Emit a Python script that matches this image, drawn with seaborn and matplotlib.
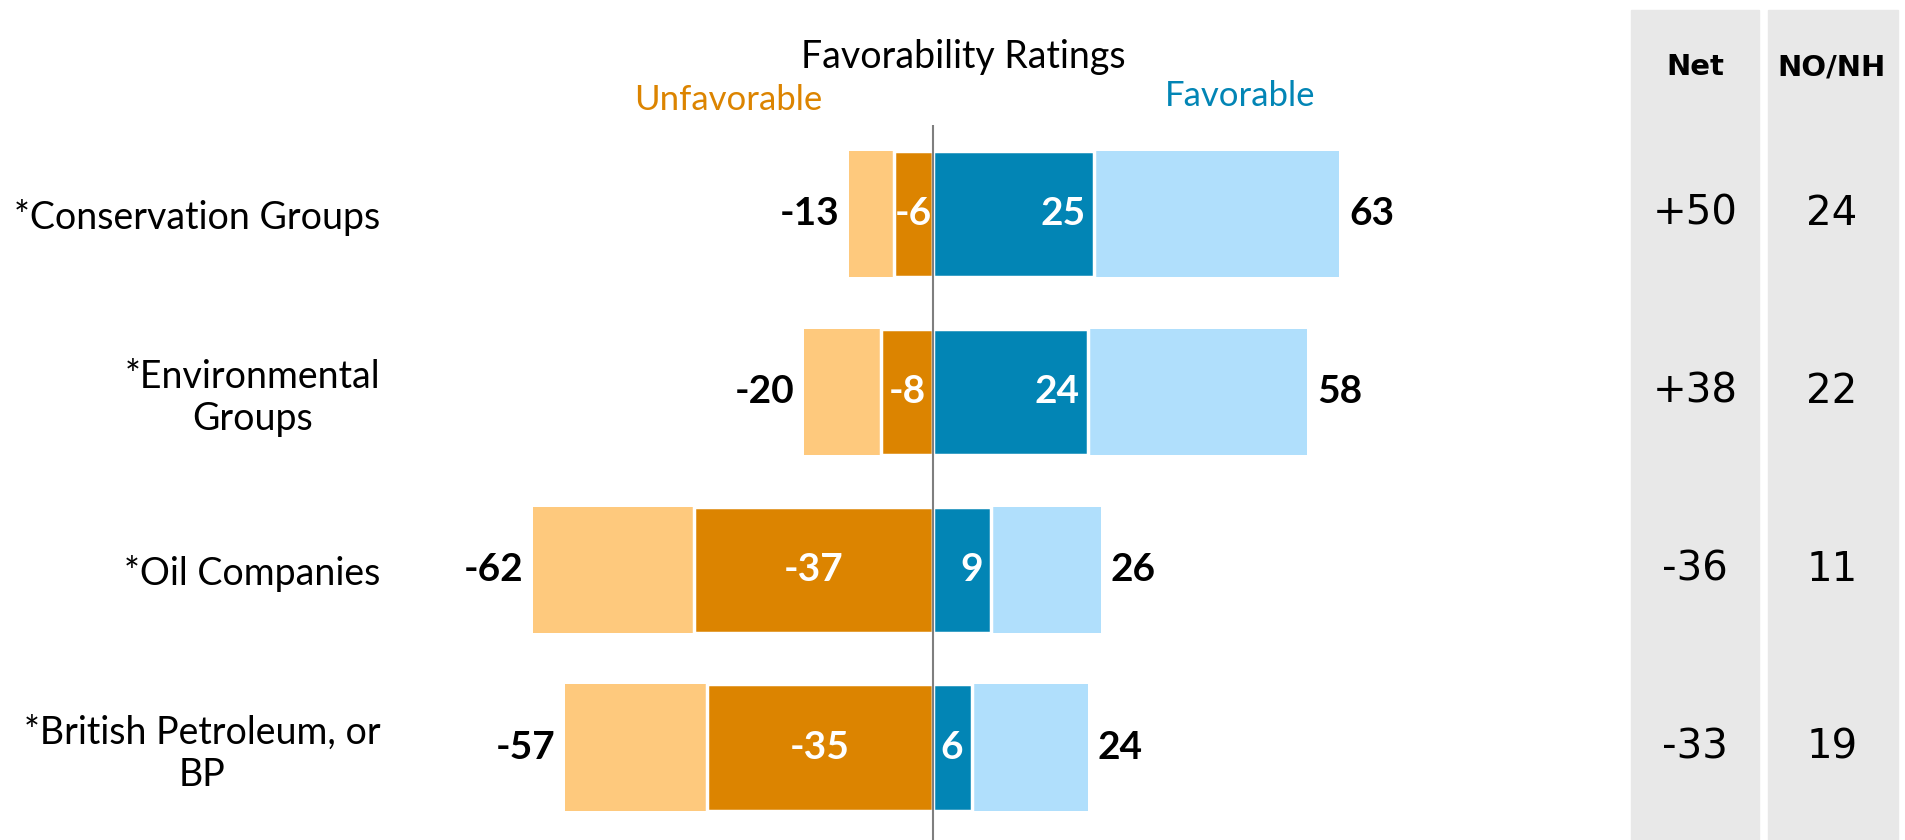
import numpy as np
import pandas as pd
import matplotlib
matplotlib.use('Agg')
import matplotlib.pyplot as plt
import matplotlib.transforms as mtransforms
from matplotlib.patches import Rectangle
import seaborn as sns

# Data
categories = ['*Conservation Groups', '*Environmental\nGroups', '*Oil Companies', '*British Petroleum, or\nBP']
unfav_total = [-13, -20, -62, -57]
unfav_strong = [-6, -8, -37, -35]
fav_total = [63, 58, 26, 24]
fav_strong = [25, 24, 9, 6]
net = ['+50', '+38', '-36', '-33']
no_nh = ['24', '22', '11', '19']

# Colors
light_orange = '#FEC97D'
dark_orange = '#DC8400'
dark_blue = '#0285B5'
light_blue = '#B0DFFC'
box_gray = '#E8E8E8'

sns.set_theme(style='white')
plt.rcParams['font.family'] = ['Lato', 'DejaVu Sans']
plt.rcParams['text.color'] = 'black'

W, H = 1905, 840
fig = plt.figure(figsize=(W / 100, H / 100), dpi=100)

# Gray boxes for the side columns
for x0, x1 in [(1631, 1759), (1768, 1898)]:
    fig.patches.append(Rectangle((x0 / W, 0), (x1 - x0) / W, (H - 10) / H,
                                 transform=fig.transFigure, color=box_gray, zorder=0))

ax = fig.add_axes([400 / W, 0, 1220 / W, 715 / H])
ax.patch.set_alpha(0)

df = pd.DataFrame({'cat': categories, 'unfav_total': unfav_total, 'unfav_strong': unfav_strong,
                   'fav_total': fav_total, 'fav_strong': fav_strong})

bw = 0.71
sns.barplot(data=df, x='unfav_total', y='cat', orient='h', color=light_orange, width=bw,
            edgecolor='white', linewidth=0, saturation=1, ax=ax)
sns.barplot(data=df, x='unfav_strong', y='cat', orient='h', color=dark_orange, width=bw,
            edgecolor='white', linewidth=2.5, saturation=1, ax=ax)
sns.barplot(data=df, x='fav_total', y='cat', orient='h', color=light_blue, width=bw,
            edgecolor='white', linewidth=0, saturation=1, ax=ax)
sns.barplot(data=df, x='fav_strong', y='cat', orient='h', color=dark_blue, width=bw,
            edgecolor='white', linewidth=2.5, saturation=1, ax=ax)

ax.set_xlim(-(933 - 400) / 6.45, (1620 - 933) / 6.45)
ax.set_ylim(3.52, -0.5)
ax.axvline(0, color='#7F7F7F', lw=1.5, zorder=10)

lbl_size = 28
c_ut, c_us, c_ft, c_fs = ax.containers[:4]
ax.bar_label(c_ut, labels=[str(v) for v in unfav_total], padding=7,
             fontsize=lbl_size, fontweight='bold', color='black')
ax.bar_label(c_ft, labels=[str(v) for v in fav_total], padding=7,
             fontsize=lbl_size, fontweight='bold', color='black')
ax.bar_label(c_us, labels=[str(v) for v in unfav_strong], label_type='center',
             fontsize=lbl_size, fontweight='bold', color='white', zorder=11)
for bar, v in zip(c_fs.patches, fav_strong):
    ax.annotate(str(v), (bar.get_x() + bar.get_width(), bar.get_y() + bar.get_height() / 2),
                xytext=(-6, 0), textcoords='offset points', ha='right', va='center',
                fontsize=lbl_size, fontweight='bold', color='white', zorder=11)

ax.set_xlabel('')
ax.set_ylabel('')
ax.set_xticks([])
ax.tick_params(axis='y', length=0, pad=14, labelsize=27, labelcolor='black')
for t in ax.get_yticklabels():
    t.set_multialignment('center')
sns.despine(ax=ax, left=True, bottom=True)

# Headings
fig.text(963 / W, 1 - 57 / H, 'Favorability Ratings', ha='center', va='center', fontsize=27, color='black')
fig.text(728 / W, 1 - 100 / H, 'Unfavorable', ha='center', va='center', fontsize=25, color=dark_orange)
fig.text(1240 / W, 1 - 96 / H, 'Favorable', ha='center', va='center', fontsize=25, color=dark_blue)

# Side columns
side_font = ['DejaVu Sans']
fig.text(1695 / W, 1 - 67 / H, 'Net', ha='center', va='center', fontsize=21,
         fontweight='bold', family=side_font, color='black')
fig.text(1832 / W, 1 - 67 / H, 'NO/NH', ha='center', va='center', fontsize=21,
         fontweight='bold', family=side_font, color='black')
trans = mtransforms.blended_transform_factory(fig.transFigure, ax.transData)
for i, (n, o) in enumerate(zip(net, no_nh)):
    fig.text(1695 / W, i, n, transform=trans, ha='center', va='center', fontsize=29,
             family=side_font, color='black')
    fig.text(1832 / W, i, o, transform=trans, ha='center', va='center', fontsize=29,
             family=side_font, color='black')

fig.savefig('out.png', dpi=100)
